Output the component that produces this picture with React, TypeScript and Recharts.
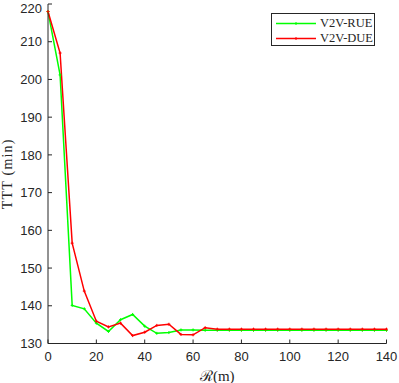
import React from 'react';
import { LineChart, Line, XAxis, YAxis } from 'recharts';

const radius = [0, 5, 10, 15, 20, 25, 30, 35, 40, 45, 50, 55, 60, 65, 70, 75, 80, 85, 90, 95, 100, 105, 110, 115, 120, 125, 130, 135, 140];
const rue = [218, 201.2, 140.1, 139.2, 135.4, 133.2, 136.3, 137.7, 134.6, 132.7, 132.9, 133.6, 133.6, 133.5, 133.5, 133.5, 133.5, 133.5, 133.5, 133.5, 133.5, 133.5, 133.5, 133.5, 133.5, 133.5, 133.5, 133.5, 133.5];
const due = [218, 207, 156.6, 143.9, 135.9, 134.4, 135.4, 132.1, 133, 134.8, 135.1, 132.4, 132.3, 134.2, 133.8, 133.8, 133.8, 133.8, 133.8, 133.8, 133.8, 133.8, 133.8, 133.8, 133.8, 133.8, 133.8, 133.8, 133.8];
const xTicks = [0, 20, 40, 60, 80, 100, 120, 140];
const yTicks = [130, 140, 150, 160, 170, 180, 190, 200, 210, 220];
const seriesNames = ['V2V-RUE', 'V2V-DUE'];
const colors = ['#00ff00', '#ff0000'];

const data = radius.map((r, i) => ({ r, rue: rue[i], due: due[i] }));

const AXIS = '#262626';
const tickFont = { fontFamily: '"Liberation Sans", Arial, sans-serif', fontSize: 13, fill: AXIS };

const Cross = (color: string) => (props: any) => {
  const { cx, cy } = props;
  if (cx == null || cy == null) return null;
  return (
    <g>
      <line x1={cx - 1.5} x2={cx + 1.5} y1={cy} y2={cy} stroke={color} strokeWidth={1} />
      <line x1={cx} x2={cx} y1={cy - 1.5} y2={cy + 1.5} stroke={color} strokeWidth={1} />
    </g>
  );
};

export default function App() {
  return (
    <div style={{ position: 'absolute', left: 0, top: 0, width: 399, height: 383, background: '#fff' }}>
      <LineChart width={399} height={383} data={data} margin={{ top: 4, right: 12.5, left: 0, bottom: 0 }}>
        <XAxis
          dataKey="r"
          type="number"
          domain={[0, 140]}
          ticks={xTicks}
          xAxisId="b"
          height={39.5}
          tickSize={-4}
          tickMargin={12.5}
          stroke={AXIS}
          tick={tickFont}
          label={{ value: 'ℛ(m)', position: 'insideBottom', offset: 2, style: { fontFamily: '"Liberation Serif", serif', fontSize: 15, fill: AXIS } }}
        />
        <XAxis
          dataKey="r"
          type="number"
          domain={[0, 140]}
          ticks={xTicks}
          xAxisId="t"
          orientation="top"
          height={0}
          tickSize={-4}
          tickFormatter={() => ''}
          stroke={AXIS}
        />
        <YAxis
          type="number"
          domain={[130, 220]}
          ticks={yTicks}
          yAxisId="l"
          width={48}
          tickSize={-4}
          tickMargin={10}
          stroke={AXIS}
          tick={tickFont}
          allowDataOverflow
          label={{ value: 'TTT (min)', angle: -90, position: 'insideLeft', offset: 7, style: { fontFamily: '"Liberation Serif", serif', fontSize: 14, letterSpacing: 1.2, fill: AXIS, textAnchor: 'middle' } }}
        />
        <YAxis
          type="number"
          domain={[130, 220]}
          ticks={yTicks}
          yAxisId="r"
          orientation="right"
          width={0}
          tickSize={-4}
          tickFormatter={() => ''}
          stroke={AXIS}
          allowDataOverflow
        />
        <Line xAxisId="b" yAxisId="l" type="linear" dataKey="rue" stroke={colors[0]} strokeWidth={1.5} dot={Cross(colors[0])} isAnimationActive={false} />
        <Line xAxisId="b" yAxisId="l" type="linear" dataKey="due" stroke={colors[1]} strokeWidth={1.5} dot={Cross(colors[1])} isAnimationActive={false} />
      </LineChart>
      <div
        style={{
          position: 'absolute',
          left: 271,
          top: 13,
          width: 104,
          height: 33,
          border: `1px solid ${AXIS}`,
          background: '#fff',
          boxSizing: 'border-box',
          fontFamily: '"Liberation Serif", serif',
          fontSize: 12.5,
          color: AXIS,
        }}
      >
        {seriesNames.map((n, i) => (
          <div key={n} style={{ position: 'absolute', left: 4, top: 2 + i * 15, height: 15, display: 'flex', alignItems: 'center' }}>
            <svg width={40} height={15} style={{ display: 'block' }}>
              <line x1={0} x2={40} y1={7.5} y2={7.5} stroke={colors[i]} strokeWidth={1.5} />
              <line x1={18.5} x2={21.5} y1={7.5} y2={7.5} stroke={colors[i]} strokeWidth={1} />
              <line x1={20} x2={20} y1={6} y2={9} stroke={colors[i]} strokeWidth={1} />
            </svg>
            <span style={{ marginLeft: 4, whiteSpace: 'nowrap' }}>{n}</span>
          </div>
        ))}
      </div>
    </div>
  );
}
